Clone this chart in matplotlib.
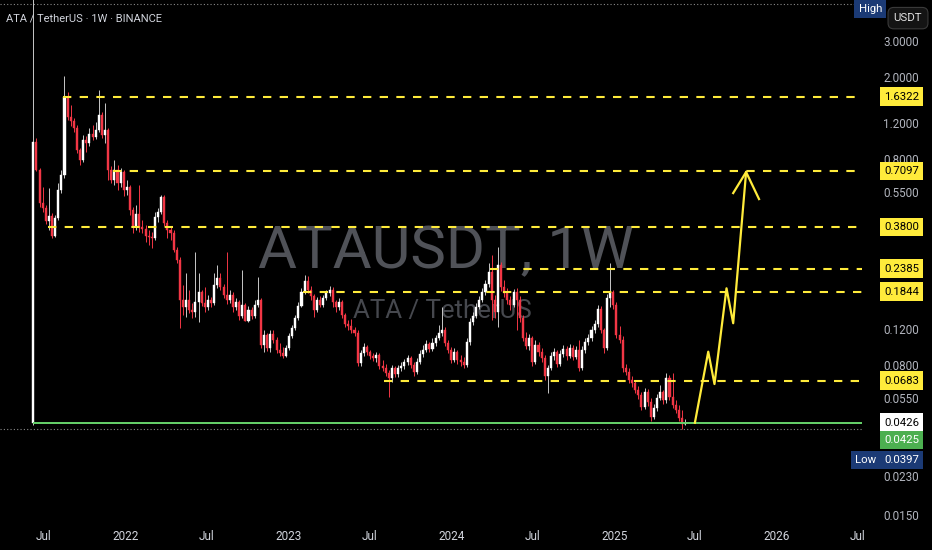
import numpy as np
import pandas as pd
import matplotlib
matplotlib.use('Agg')
import matplotlib.pyplot as plt
import matplotlib.dates as mdates
import matplotlib.transforms as mtransforms
from matplotlib.ticker import NullLocator

plt.rcParams['font.family'] = ['Roboto', 'DejaVu Sans']

# Weekly ATA/USDT candles (Binance), first week = listing week
first_week = '2021-06-07'
first_open = 0.0426
closes = [
    0.982, 0.718, 0.496, 0.469, 0.406, 0.429, 0.343, 0.420, 0.574, 0.679,
    1.622, 1.298, 1.241, 1.148, 0.897, 0.803, 1.004, 0.971, 1.073, 1.038,
    1.122, 1.327, 1.061, 1.122, 0.718, 0.642, 0.718, 0.621, 0.702, 0.574,
    0.594, 0.459, 0.379, 0.439, 0.379, 0.371, 0.342, 0.339, 0.336, 0.424,
    0.449, 0.531, 0.397, 0.367, 0.355, 0.294, 0.2625, 0.1678, 0.1552, 0.1678,
    0.1501, 0.1468, 0.1641, 0.1836, 0.1623, 0.1552, 0.1678, 0.1623, 0.1985, 0.2147,
    0.1941, 0.1775, 0.1678, 0.1775, 0.1552, 0.1641, 0.1403, 0.1587, 0.1327, 0.1501,
    0.1403, 0.1587, 0.1678, 0.1015, 0.1135, 0.0981, 0.1147, 0.1073, 0.0960, 0.0928,
    0.0898, 0.0981, 0.1122, 0.1227, 0.1372, 0.1570, 0.1836, 0.2077, 0.1877, 0.1755,
    0.1501, 0.1678, 0.1587, 0.1716, 0.1815, 0.1877, 0.1641, 0.1552, 0.1641, 0.1419,
    0.1283, 0.1255, 0.1200, 0.1160, 0.0830, 0.0928, 0.0993, 0.0939, 0.0898, 0.0878,
    0.0908, 0.0803, 0.0785, 0.0743, 0.0702, 0.0785, 0.0734, 0.0785, 0.0803, 0.0839,
    0.0878, 0.0812, 0.0751, 0.0839, 0.0918, 0.0960, 0.1026, 0.0970, 0.1038, 0.1098,
    0.1160, 0.1200, 0.1038, 0.0960, 0.0858, 0.0939, 0.0858, 0.0839, 0.0812, 0.1049,
    0.1312, 0.1403, 0.1552, 0.1678, 0.1836, 0.2008, 0.2295, 0.1678, 0.1468, 0.2480,
    0.1941, 0.1815, 0.1678, 0.1587, 0.1836, 0.1678, 0.1372, 0.1098, 0.1004, 0.1098,
    0.0839, 0.1015, 0.0939, 0.0878, 0.0718, 0.0785, 0.0898, 0.0939, 0.0820, 0.0918,
    0.0970, 0.0898, 0.0981, 0.0888, 0.0960, 0.0785, 0.0960, 0.1049, 0.1098, 0.1200,
    0.1283, 0.1517, 0.1200, 0.0981, 0.1716, 0.1836, 0.1587, 0.1135, 0.1073, 0.0785,
    0.0751, 0.0687, 0.0664, 0.0614, 0.0581, 0.0508, 0.0600, 0.0537, 0.0454, 0.0502,
    0.0562, 0.0600, 0.0549, 0.0702, 0.0568, 0.0519, 0.0491, 0.0449, 0.0420, 0.0426,
]
highs = [
    5.5, 1.027, 0.734, 0.594, 0.485, 0.587, 0.444, 0.434, 0.621, 0.718,
    2.052, 1.716, 1.484, 1.283, 1.187, 0.917, 1.061, 1.049, 1.147, 1.187,
    1.227, 1.755, 1.372, 1.517, 1.147, 0.751, 0.803, 0.759, 0.734, 0.718,
    0.642, 0.607, 0.474, 0.485, 0.607, 0.411, 0.388, 0.367, 0.359, 0.449,
    0.469, 0.543, 0.543, 0.411, 0.384, 0.367, 0.304, 0.272, 0.1985, 0.227,
    0.1877, 0.1623, 0.2875, 0.227, 0.1877, 0.1941, 0.1775, 0.1736, 0.227, 0.248,
    0.227, 0.2007, 0.2875, 0.1877, 0.1836, 0.1716, 0.1678, 0.2347, 0.1623, 0.1570,
    0.1552, 0.1678, 0.2171, 0.1716, 0.1200, 0.1160, 0.1200, 0.1200, 0.1110, 0.1038,
    0.0993, 0.1015, 0.1160, 0.1269, 0.1419, 0.1641, 0.1919, 0.222, 0.2196, 0.1963,
    0.1795, 0.1736, 0.1755, 0.1775, 0.1877, 0.1963, 0.1941, 0.1678, 0.1716, 0.1678,
    0.1451, 0.1342, 0.1357, 0.1241, 0.1200, 0.0960, 0.1038, 0.1015, 0.0960, 0.0928,
    0.0939, 0.0928, 0.0858, 0.0820, 0.0768, 0.0812, 0.0803, 0.0812, 0.0839, 0.0868,
    0.0908, 0.0898, 0.0839, 0.0878, 0.0960, 0.1015, 0.1073, 0.1049, 0.1098, 0.1135,
    0.1269, 0.1552, 0.1241, 0.1073, 0.0993, 0.0981, 0.0960, 0.0908, 0.0888, 0.1098,
    0.1372, 0.1468, 0.1623, 0.1755, 0.1919, 0.210, 0.2538, 0.278, 0.1775, 0.304,
    0.2567, 0.210, 0.1919, 0.1755, 0.1898, 0.1919, 0.1755, 0.1419, 0.1174, 0.1147,
    0.1122, 0.1073, 0.1049, 0.0981, 0.0908, 0.0812, 0.0939, 0.0981, 0.0960, 0.0960,
    0.1015, 0.1004, 0.1026, 0.1015, 0.1004, 0.1073, 0.1004, 0.1098, 0.1147, 0.1255,
    0.1342, 0.1587, 0.1570, 0.1227, 0.1795, 0.2538, 0.1877, 0.1641, 0.1255, 0.1122,
    0.0820, 0.0785, 0.0718, 0.0687, 0.0642, 0.0600, 0.0628, 0.0621, 0.0562, 0.0525,
    0.0588, 0.0649, 0.0614, 0.0743, 0.0726, 0.0743, 0.0549, 0.0519, 0.0491, 0.0444,
]
lows = [
    0.0415, 0.710, 0.474, 0.449, 0.392, 0.367, 0.336, 0.339, 0.411, 0.555,
    0.656, 1.255, 1.174, 1.097, 0.868, 0.759, 0.785, 0.877, 0.939, 1.004,
    1.015, 1.097, 1.027, 0.971, 0.642, 0.621, 0.607, 0.574, 0.594, 0.537,
    0.543, 0.434, 0.355, 0.367, 0.359, 0.355, 0.321, 0.311, 0.300, 0.328,
    0.402, 0.439, 0.384, 0.336, 0.328, 0.2875, 0.2538, 0.1227, 0.1419, 0.1388,
    0.1451, 0.1372, 0.1388, 0.1312, 0.1570, 0.1468, 0.1501, 0.1552, 0.1587, 0.1919,
    0.1877, 0.1716, 0.1605, 0.1623, 0.1468, 0.1501, 0.1342, 0.1372, 0.1357, 0.1312,
    0.1357, 0.1372, 0.1552, 0.0981, 0.0939, 0.0949, 0.0939, 0.1038, 0.0928, 0.0898,
    0.0878, 0.0888, 0.0960, 0.1098, 0.1200, 0.1342, 0.1552, 0.1795, 0.1815, 0.1678,
    0.1388, 0.1468, 0.1552, 0.1552, 0.1678, 0.1755, 0.1552, 0.1468, 0.1501, 0.1372,
    0.1241, 0.1200, 0.1160, 0.1122, 0.0803, 0.0803, 0.0898, 0.0908, 0.0868, 0.0849,
    0.0839, 0.0777, 0.0760, 0.0718, 0.0568, 0.0672, 0.0710, 0.0710, 0.0760, 0.0777,
    0.0812, 0.0785, 0.0718, 0.0734, 0.0820, 0.0888, 0.0939, 0.0939, 0.0949, 0.1004,
    0.1073, 0.1122, 0.1004, 0.0928, 0.0830, 0.0839, 0.0820, 0.0803, 0.0785, 0.0794,
    0.1015, 0.1269, 0.1372, 0.1517, 0.1641, 0.1775, 0.1941, 0.1342, 0.1372, 0.1241,
    0.1856, 0.1736, 0.1605, 0.1501, 0.1552, 0.1200, 0.1312, 0.1061, 0.0970, 0.0960,
    0.0803, 0.0820, 0.0898, 0.0839, 0.0687, 0.0594, 0.0768, 0.0858, 0.0794, 0.0803,
    0.0888, 0.0858, 0.0878, 0.0858, 0.0868, 0.0760, 0.0768, 0.0928, 0.1015, 0.1061,
    0.1160, 0.1241, 0.1160, 0.0928, 0.0960, 0.1552, 0.1517, 0.1098, 0.1038, 0.0751,
    0.0726, 0.0664, 0.0635, 0.0594, 0.0556, 0.0491, 0.0496, 0.0513, 0.0434, 0.0444,
    0.0486, 0.0549, 0.0525, 0.0531, 0.0549, 0.0502, 0.0475, 0.0434, 0.0397, 0.0415,
]

# horizontal levels drawn on the chart (yellow dashed)
levels = [1.6322, 0.7097, 0.3800, 0.2385, 0.1844, 0.0683]
level_starts = ['2021-08-12', '2021-12-02', '2021-07-10', '2024-03-28', '2023-02-02', '2023-08-04']

support = 0.0425
last_price = 0.0426
low_price = 0.0397
high_price = 4.59

# projected path (yellow zig-zag arrow)
path_dates = ['2025-07-01', '2025-07-31', '2025-08-14', '2025-09-10', '2025-09-25', '2025-10-24']
path_prices = [0.0426, 0.0943, 0.0657, 0.1915, 0.1296, 0.702]
head_dates = ['2025-09-25', '2025-10-24', '2025-11-22']
head_prices = [0.555, 0.702, 0.519]

price_ticks = [3.0, 2.0, 1.2, 0.8, 0.55, 0.12, 0.08, 0.055, 0.023, 0.015]
time_ticks = ['2021-07-01', '2022-01-01', '2022-07-01', '2023-01-01', '2023-07-01', '2024-01-01',
              '2024-07-01', '2025-01-01', '2025-07-01', '2026-01-01', '2026-07-01']
time_labels = ['Jul', '2022', 'Jul', '2023', 'Jul', '2024', 'Jul', '2025', 'Jul', '2026', 'Jul']

W, H = 932, 550
fig = plt.figure(figsize=(W / 100, H / 100), dpi=100, facecolor='black')
ax = fig.add_axes([0, 30 / H, 862 / W, 520 / H])
ax.set_facecolor('black')
ax.set_yscale('log')
t0 = mdates.date2num(pd.Timestamp('2021-07-01'))
px_day = 0.4455
ax.set_xlim(t0 - 44 / px_day, t0 + (862 - 44) / px_day)
ax.set_ylim(0.01438, 4.80)
xr = ax.get_xlim()[1]
xl0 = ax.get_xlim()[0]

# watermark
def fit_text(s, x0, x1, ybase, color, zorder):
    t = ax.text(x0 / W, 1 - ybase / H, s, transform=fig.transFigure, ha='left', va='baseline',
                fontsize=10, color=color, zorder=zorder)
    w = t.get_window_extent(fig.canvas.get_renderer()).width
    t.set_fontsize(10 * (x1 - x0) / w)
    return t

fit_text('ATAUSDT, 1W', 258, 632, 268, '#505258', 0.5)
fit_text('ATA / TetherUS', 353, 532, 318, '#46484e', 0.5)

# candles
dates = pd.date_range(first_week, periods=len(closes), freq='7D')
x = mdates.date2num(dates)
c = np.array(closes)
o = np.array([first_open] + closes[:-1])
up = c >= o
hi = np.maximum(np.maximum(highs, o), c)
lo = np.minimum(np.minimum(lows, o), c)
bull, bear = '#ffffff', '#f23645'
ax.vlines(x[up], lo[up], hi[up], color='#c8c8c8', lw=0.7, zorder=2)
ax.vlines(x[~up], lo[~up], hi[~up], color=bear, lw=0.7, zorder=2)
bottom = np.minimum(o, c)
top = np.maximum(o, c)
cols = np.where(up, bull, bear)
ax.bar(x, top - bottom, bottom=bottom, width=4.6, color=cols, edgecolor=cols, linewidth=0.3, zorder=3)

# levels
for lv, st in zip(levels, level_starts):
    ax.plot([mdates.date2num(pd.Timestamp(st)), xr], [lv, lv], color='#ffeb3b', lw=1.5,
            dashes=(4, 4), zorder=4)

ax.plot([mdates.date2num(pd.Timestamp('2021-06-09')), xr], [support, support],
        color='#66d36a', lw=1.4, zorder=4)
ax.plot([xl0, xr], [low_price, low_price], color='#8a8a8a', lw=0.8, ls=(0, (1, 2)), zorder=1)
ax.plot([xl0, xr], [high_price, high_price], color='#8a8a8a', lw=0.8, ls=(0, (1, 2)), zorder=1)

# projection arrow
ax.plot(mdates.date2num(pd.to_datetime(path_dates)), path_prices, color='#ffeb3b', lw=1.6, zorder=5)
ax.plot(mdates.date2num(pd.to_datetime(head_dates)), head_prices, color='#ffeb3b', lw=1.6, zorder=5)

# top-left title
ax.text(6 / W, 1 - 22 / H, 'ATA / TetherUS · 1W · BINANCE', transform=fig.transFigure,
        ha='left', va='baseline', fontsize=8, color='#d1d4dc', zorder=8)

# axes styling
for s in ax.spines.values():
    s.set_visible(False)
ax.set_yticks([])
ax.yaxis.set_minor_locator(NullLocator())
ax.set_xticks(mdates.date2num(pd.to_datetime(time_ticks)))
ax.set_xticklabels(time_labels)
ax.tick_params(axis='x', length=0, pad=7, labelsize=8.5, labelcolor='#d1d4dc')

# price scale
tr = mtransforms.blended_transform_factory(ax.transAxes, ax.transData)
xl = 919 / 862
for p in price_ticks:
    ax.text(xl, p, f'{p:.4f}', transform=tr, ha='right', va='center', fontsize=8.4,
            color='#b2b5be', clip_on=False, zorder=5)

def tag(y, s, fc, tc, xpx=919):
    ax.text(xpx / 862, y, s, transform=tr, ha='right', va='center', fontsize=8.2, color=tc,
            clip_on=False, zorder=7, bbox=dict(boxstyle='square,pad=0.38', fc=fc, ec='none'))

for lv in levels:
    tag(lv, f'{lv:.4f}', '#ffeb3b', 'black')
tag(last_price, f'{last_price:.4f}', 'white', 'black')
tag(0.0352, f'{support:.4f}', '#4caf50', 'white')
tag(0.0281, f'{low_price:.4f}', '#1b3a75', 'white')
tag(0.0281, 'Low', '#1b3a75', 'white', xpx=876)
tag(4.34, 'High', '#1b3a75', 'white', xpx=882)
ax.text(908 / 862, 3.92, 'USDT', transform=tr, ha='center', va='center', fontsize=8.2,
        color='#e0e0e0', clip_on=False, zorder=7,
        bbox=dict(boxstyle='round,pad=0.5', fc='#141414', ec='#3a3a3a', lw=0.8))

fig.savefig('out.png', dpi=100, facecolor='black')
